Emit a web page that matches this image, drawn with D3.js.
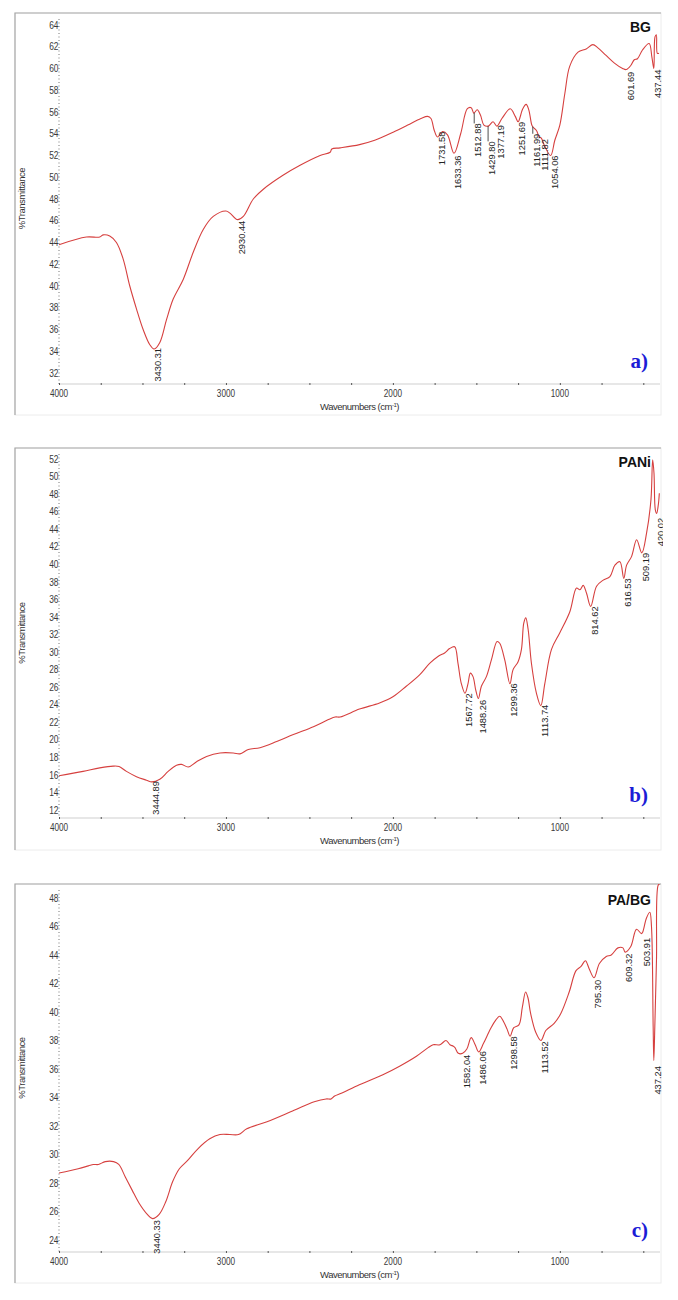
<!DOCTYPE html>
<html>
<head>
<meta charset="utf-8">
<script src="https://cdn.jsdelivr.net/npm/d3@7"></script>
<style>
  body { margin: 0; background: #fff; }
  svg { display: block; font-family: "Liberation Sans", Arial, sans-serif; }
  .tick-label { font-size: 10.5px; fill: #3a3a3a; }
  .peak-label { font-size: 9.3px; fill: #222; }
  .axis-title { font-size: 9.5px; fill: #333; letter-spacing: -0.5px; }
  .sample { font-size: 14px; font-weight: bold; fill: #111; }
  .tag { font-family: "Liberation Serif", "Times New Roman", serif; font-size: 21px; font-weight: bold; fill: #1c1cd6; }
</style>
</head>
<body>
<div id="chart"></div>
<script>
// ---- data ----
const xTickLabels = [4000, 3000, 2000, 1000];
const xMinorTicks = [3750, 3500, 3250, 2750, 2500, 2250, 1750, 1500, 1250, 750, 500];

// a) BG
const bgWave = [4000, 3836, 3756, 3736, 3696, 3656, 3616, 3576, 3536, 3496, 3456, 3430, 3396, 3356, 3316, 3256, 3196, 3136, 3076, 3000, 2976, 2930, 2896, 2836, 2776, 2656, 2556, 2436, 2376, 2366, 2316,
  2200, 2109, 1990, 1911, 1832, 1792, 1772, 1752, 1733, 1703, 1673, 1634, 1594, 1554, 1531, 1515, 1495, 1475, 1455, 1429, 1400, 1377, 1347, 1297, 1267, 1250, 1222, 1202, 1186, 1168, 1160, 1140, 1123, 1111, 1089, 1055, 1030, 1000, 970, 941, 891, 842, 802, 772, 723, 673, 624, 602, 574, 554, 535, 505, 465, 449, 437, 430, 422, 416, 406];
const bgT = [43.8, 44.5, 44.5, 44.7, 44.6, 44.0, 42.5, 40.0, 37.9, 36.0, 34.6, 34.2, 34.8, 36.9, 38.8, 40.6, 43.1, 45.2, 46.4, 46.9, 46.7, 46.1, 46.4, 48.0, 48.9, 50.2, 51.1, 52.0, 52.3, 52.6, 52.7,
  53.0, 53.4, 54.2, 54.8, 55.4, 55.6, 55.4, 54.3, 53.7, 54.2, 53.9, 52.2, 54.0, 56.3, 56.4, 55.9, 56.2, 55.7, 54.8, 54.7, 55.1, 54.7, 55.4, 56.3, 55.6, 55.1, 56.3, 56.7, 56.2, 54.8, 54.6, 54.3, 53.7, 53.6, 52.8, 52.0, 53.4, 54.8, 57.7, 60.2, 61.5, 61.8, 62.2, 61.9, 61.2, 60.5, 60.0, 59.9, 60.3, 60.8, 60.9, 61.7, 62.3, 61.1, 60.0, 62.9, 63.1, 61.4, 61.4];
const bgYTicks = [32, 34, 36, 38, 40, 42, 44, 46, 48, 50, 52, 54, 56, 58, 60, 62, 64];
// [wavenumber, transmittance where the label starts]
const bgPeaks = [[3430.31, 34.3], [2930.44, 46.0], [1731.58, 54.2], [1633.36, 52.0], [1512.88, 54.95], [1429.80, 53.3], [1377.19, 54.8], [1251.69, 55.1], [1161.99, 54.0], [1111.82, 53.5], [1054.06, 52.0], [601.69, 59.7], [437.44, 59.9]];

// b) PANi
const paniWave = [4000, 3856, 3756, 3676, 3640, 3596, 3536, 3476, 3444, 3396, 3346, 3296, 3266, 3226, 3176, 3116, 3036, 2956, 2916, 2866, 2796, 2696, 2596, 2476, 2386, 2346, 2316,
  2200, 2080, 2000, 1920, 1840, 1780, 1730, 1690, 1660, 1630, 1610, 1590, 1568, 1550, 1536, 1520, 1504, 1488, 1470, 1440, 1410, 1376, 1360, 1330, 1299, 1280, 1250, 1230, 1216, 1204, 1190, 1170, 1140, 1114, 1090, 1050, 1000, 940, 900, 880, 860, 840, 815, 780, 740, 700, 670, 640, 617, 600, 570, 540, 509, 480, 454, 444, 436, 428, 420, 410, 404];
const paniT = [15.9, 16.4, 16.8, 17.0, 16.95, 16.4, 15.8, 15.4, 15.2, 15.5, 16.4, 17.1, 17.2, 16.9, 17.5, 18.1, 18.5, 18.5, 18.4, 18.9, 19.1, 19.8, 20.6, 21.5, 22.3, 22.6, 22.6,
  23.5, 24.2, 24.9, 26.1, 27.4, 28.7, 29.5, 29.9, 30.4, 30.6, 28.7, 26.4, 25.3, 26.4, 27.6, 27.2, 25.7, 24.7, 26.1, 27.2, 29.1, 31.2, 31.0, 29.1, 26.4, 28.0, 28.9, 30.3, 33.3, 33.9, 32.6, 28.7, 25.3, 23.9, 26.4, 30.3, 32.2, 34.6, 37.3, 37.1, 37.6, 36.7, 35.2, 37.5, 38.2, 38.6, 39.9, 40.3, 38.4, 39.9, 40.9, 42.8, 41.3, 43.6, 47.4, 51.9, 50.4, 46.2, 45.8, 46.8, 48.1];
const paniYTicks = [12, 14, 16, 18, 20, 22, 24, 26, 28, 30, 32, 34, 36, 38, 40, 42, 44, 46, 48, 50, 52];
const paniPeaks = [[3444.89, 15.3], [1567.72, 25.3], [1488.26, 24.55], [1299.36, 26.45], [1113.74, 24.0], [814.62, 35.2], [616.53, 38.4], [509.19, 41.3], [420.02, 45.3]];

// c) PA/BG
const pabgWave = [4000, 3885, 3824, 3794, 3764, 3723, 3673, 3642, 3602, 3562, 3521, 3471, 3440, 3400, 3360, 3319, 3279, 3228, 3168, 3097, 3036, 2976, 2925, 2875, 2754, 2592, 2471, 2400, 2370, 2349, 2309,
  2201, 2060, 1960, 1859, 1789, 1759, 1718, 1682, 1658, 1638, 1628, 1608, 1582, 1557, 1531, 1507, 1486, 1457, 1416, 1386, 1360, 1336, 1316, 1298, 1276, 1245, 1225, 1205, 1191, 1175, 1145, 1113, 1084, 1034, 994, 944, 903, 873, 847, 823, 795, 763, 722, 692, 652, 622, 609, 575, 541, 511, 504, 481, 461, 451, 441, 437, 431, 421, 411, 401];
const pabgT = [28.7, 29.0, 29.2, 29.3, 29.3, 29.5, 29.5, 29.3, 28.4, 27.5, 26.6, 25.8, 25.5, 25.8, 26.7, 28.1, 29.0, 29.6, 30.4, 31.1, 31.4, 31.4, 31.4, 31.8, 32.3, 33.1, 33.7, 33.9, 33.9, 34.1, 34.3,
  34.9, 35.6, 36.2, 36.9, 37.5, 37.7, 37.7, 38.0, 37.7, 37.6, 37.5, 37.1, 37.1, 37.4, 38.2, 37.7, 37.2, 37.8, 38.8, 39.4, 39.7, 39.3, 38.8, 38.3, 38.9, 39.1, 40.3, 41.4, 41.0, 39.9, 38.6, 38.0, 38.7, 39.2, 39.9, 41.4, 42.9, 43.2, 43.6, 43.0, 42.4, 43.4, 43.9, 44.0, 44.5, 44.5, 44.2, 44.6, 45.8, 45.5, 45.6, 46.6, 47.0, 46.0, 39.0, 36.6, 39.0, 43.7, 48.9, 49.0];
const pabgYTicks = [24, 26, 28, 30, 32, 34, 36, 38, 40, 42, 44, 46, 48];
const pabgPeaks = [[3440.33, 25.4], [1582.04, 37.0], [1486.06, 37.25], [1298.58, 38.3], [1113.52, 37.95], [795.30, 42.25], [609.32, 44.1], [503.91, 45.2], [437.24, 36.2]];

// ---- layout ----
const W = 678, H = 1300;
const frameLeft = 15, frameRight = 661;
const plotLeft = 59, plotRight = 660;

const panels = [
  { wave: bgWave, trans: bgT, peaks: bgPeaks, yTicks: bgYTicks, name: 'BG', tag: 'a)',
    frameTop: 13, frameBottom: 415, axisY: 384, ref: [32, 373, 64, 25], nameY: 32, tagY: 368 },
  { wave: paniWave, trans: paniT, peaks: paniPeaks, yTicks: paniYTicks, name: 'PANi', tag: 'b)',
    frameTop: 448, frameBottom: 850, axisY: 818, ref: [12, 810, 52, 459], nameY: 467, tagY: 802 },
  { wave: pabgWave, trans: pabgT, peaks: pabgPeaks, yTicks: pabgYTicks, name: 'PA/BG', tag: 'c)',
    frameTop: 884, frameBottom: 1283, axisY: 1252, ref: [24, 1240, 48, 898], nameY: 905, tagY: 1237 }
];

const svg = d3.select('#chart').append('svg')
  .attr('width', W)
  .attr('height', H);

const x = d3.scaleLinear().domain([4000, 400]).range([plotLeft, plotRight]);

panels.forEach((p, i) => {
  const y = d3.scaleLinear().domain([p.ref[0], p.ref[2]]).range([p.ref[1], p.ref[3]]);
  const g = svg.append('g');

  g.append('clipPath').attr('id', 'clip' + i)
    .append('rect')
      .attr('x', frameLeft).attr('y', p.frameTop)
      .attr('width', frameRight - frameLeft + 2).attr('height', p.frameBottom - p.frameTop);

  // frame
  g.append('rect')
    .attr('x', frameLeft).attr('y', p.frameTop)
    .attr('width', frameRight - frameLeft).attr('height', p.frameBottom - p.frameTop)
    .attr('fill', 'none').attr('stroke', '#ececec');
  g.append('path')
    .attr('d', `M${frameLeft},${p.frameBottom}V${p.frameTop}H${frameRight}`)
    .attr('fill', 'none').attr('stroke', '#a8a8a8').attr('stroke-width', 1.2);

  // y axis: dotted line with condensed labels
  g.append('line')
    .attr('x1', plotLeft).attr('x2', plotLeft)
    .attr('y1', p.frameTop + 6).attr('y2', p.axisY)
    .attr('stroke', '#777').attr('stroke-dasharray', '1,2.5');
  g.selectAll('.ytick')
    .data(p.yTicks)
    .enter().append('text')
      .attr('class', 'tick-label')
      .attr('transform', d => `translate(${plotLeft - 0.5},${y(d)}) scale(0.8,1)`)
      .attr('dy', '0.35em')
      .attr('text-anchor', 'end')
      .text(d => d);

  // x axis
  const xAxis = g.append('g')
    .attr('transform', `translate(0,${p.axisY})`)
    .call(d3.axisBottom(x).tickValues(xMinorTicks.concat(xTickLabels)).tickSize(2).tickFormat(''));
  xAxis.select('.domain').attr('stroke', '#cfcfcf').attr('d', `M${plotLeft},0H${plotRight}`);
  xAxis.selectAll('.tick line').attr('stroke', '#555').attr('y1', -1).attr('y2', 1);

  g.selectAll('.xtick')
    .data(xTickLabels)
    .enter().append('text')
      .attr('class', 'tick-label')
      .attr('transform', d => `translate(${x(d)},${p.axisY + 13}) scale(0.78,1)`)
      .attr('text-anchor', 'middle')
      .text(d => d);

  const xt = g.append('text')
    .attr('class', 'axis-title')
    .attr('x', (plotLeft + plotRight) / 2)
    .attr('y', p.axisY + 26)
    .attr('text-anchor', 'middle');
  xt.append('tspan').text('Wavenumbers (cm');
  xt.append('tspan').attr('font-size', '6px').attr('dy', '-3').text('-1');
  xt.append('tspan').attr('dy', '3').text(')');

  g.append('text')
    .attr('class', 'axis-title')
    .attr('transform', `translate(25,${(p.frameTop + p.axisY) / 2}) rotate(-90)`)
    .attr('text-anchor', 'middle')
    .text('%Transmittance');

  // spectrum
  const pts = p.wave.map((w, k) => [w, p.trans[k]]);
  g.append('path')
    .datum(pts)
    .attr('clip-path', `url(#clip${i})`)
    .attr('fill', 'none')
    .attr('stroke', '#d6403f')
    .attr('stroke-width', 1.1)
    .attr('d', d3.line().x(d => x(d[0])).y(d => y(d[1])).curve(d3.curveCatmullRom.alpha(0.5)));

  // curve value at a wavenumber (wave is descending)
  const curveAt = w => {
    const xs = p.wave;
    for (let k = 0; k < xs.length - 1; k++) {
      if (w <= xs[k] && w >= xs[k + 1]) {
        const t = (xs[k] - w) / (xs[k] - xs[k + 1]);
        return p.trans[k] + t * (p.trans[k + 1] - p.trans[k]);
      }
    }
    return p.trans[p.trans.length - 1];
  };

  // peak annotations
  const peaks = g.append('g').attr('clip-path', `url(#clip${i})`);
  p.peaks.forEach(([w, top]) => {
    const cv = curveAt(w);
    if (cv - top > 0.6) {
      peaks.append('line')
        .attr('x1', x(w)).attr('x2', x(w))
        .attr('y1', y(cv)).attr('y2', y(top))
        .attr('stroke', '#222').attr('stroke-width', 0.8);
    }
    peaks.append('text')
      .attr('class', 'peak-label')
      .attr('transform', `translate(${x(w)},${y(top)}) rotate(-90)`)
      .attr('dy', '0.78em')
      .attr('text-anchor', 'end')
      .text(w.toFixed(2));
  });

  g.append('text')
    .attr('class', 'sample')
    .attr('x', 651).attr('y', p.nameY)
    .attr('text-anchor', 'end')
    .text(p.name);

  g.append('text')
    .attr('class', 'tag')
    .attr('x', 648).attr('y', p.tagY)
    .attr('text-anchor', 'end')
    .text(p.tag);
});
</script>
</body>
</html>
